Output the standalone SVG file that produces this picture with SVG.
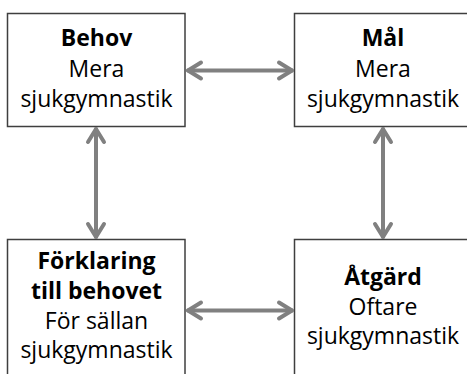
<svg xmlns="http://www.w3.org/2000/svg" width="467" height="374" viewBox="0 0 467 374">
  <style>
    .box { fill: #ffffff; stroke: #3f3f3f; stroke-width: 1.5; }
    .lbl { font-family: "Open Sans", "Liberation Sans", sans-serif; font-size: 23px; fill: #000000; text-anchor: middle; }
    .b { font-weight: bold; }
    .conn { stroke: #808080; stroke-width: 4; fill: none; stroke-linecap: round; }
  </style>
  <defs>
    <marker id="head" markerUnits="userSpaceOnUse" markerWidth="20" markerHeight="24" refX="16" refY="12" orient="auto-start-reverse" viewBox="0 0 20 24">
      <path d="M3,4 L16,12 L3,20" fill="none" stroke="#808080" stroke-width="4" stroke-linecap="round" stroke-linejoin="round"/>
    </marker>
  </defs>

  <g id="behov">
    <rect class="box" x="7.5" y="13.5" width="177.5" height="113"/>
    <text class="lbl b" x="96.5" y="46">Behov</text>
    <text class="lbl" x="96.5" y="77">Mera</text>
    <text class="lbl" x="96.5" y="107">sjukgymnastik</text>
  </g>

  <g id="mal">
    <rect class="box" x="294.5" y="13.5" width="177.5" height="113"/>
    <text class="lbl b" x="383" y="46">Mål</text>
    <text class="lbl" x="383" y="77">Mera</text>
    <text class="lbl" x="383" y="107">sjukgymnastik</text>
  </g>

  <g id="forklaring">
    <rect class="box" x="7.5" y="239.5" width="177.5" height="150"/>
    <text class="lbl b" x="96.5" y="269">Förklaring</text>
    <text class="lbl b" x="96.5" y="299">till behovet</text>
    <text class="lbl" x="96.5" y="329">För sällan</text>
    <text class="lbl" x="96.5" y="358">sjukgymnastik</text>
  </g>

  <g id="atgard">
    <rect class="box" x="294.5" y="239.5" width="177.5" height="150"/>
    <text class="lbl b" x="383" y="285">Åtgärd</text>
    <text class="lbl" x="383" y="315">Oftare</text>
    <text class="lbl" x="383" y="344">sjukgymnastik</text>
  </g>

  <g id="connectors">
    <line class="conn" x1="188" y1="70.5" x2="292" y2="70.5" marker-start="url(#head)" marker-end="url(#head)"/>
    <line class="conn" x1="188" y1="310.5" x2="292" y2="310.5" marker-start="url(#head)" marker-end="url(#head)"/>
    <line class="conn" x1="96" y1="129" x2="96" y2="237" marker-start="url(#head)" marker-end="url(#head)"/>
    <line class="conn" x1="383" y1="129" x2="383" y2="237" marker-start="url(#head)" marker-end="url(#head)"/>
  </g>
</svg>
